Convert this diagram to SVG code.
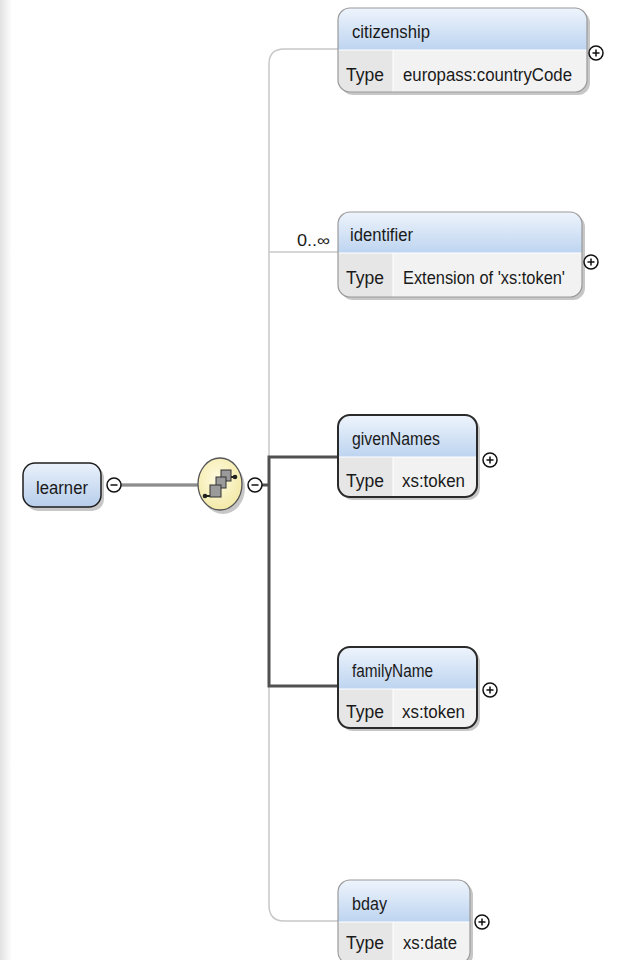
<svg xmlns="http://www.w3.org/2000/svg" width="617" height="960" viewBox="0 0 617 960">
<style>
text{font-family:"Liberation Sans",Arial,sans-serif;font-size:17.5px;fill:#1a1a1a}
.hd{fill:url(#hg)}
.opt{stroke:#9a9a9a;stroke-width:1.2}
.req{stroke:#2a2a2a;stroke-width:2}
.tc{fill:#e6e6e6}
.vc{fill:#f2f2f2}
.sh{fill:#000;opacity:.22}
.thin{fill:none;stroke:#c8c8c8;stroke-width:1.5}
.thick{fill:none;stroke:#505050;stroke-width:3}
.pm{fill:#fff;stroke:#111;stroke-width:1.5}
.pl{stroke:#111;stroke-width:1.5}
</style>
<defs>
<linearGradient id="hg" x1="0" y1="0" x2="0" y2="1"><stop offset="0" stop-color="#eef4fc"/><stop offset="1" stop-color="#bdd4f0"/></linearGradient>
<linearGradient id="lg" x1="0" y1="0" x2="0" y2="1"><stop offset="0" stop-color="#eaf1fb"/><stop offset="1" stop-color="#b6cdeb"/></linearGradient>
<linearGradient id="edge" x1="0" y1="0" x2="1" y2="0"><stop offset="0" stop-color="#e2e2e2"/><stop offset="1" stop-color="#ffffff"/></linearGradient>
<radialGradient id="yg" cx="0.45" cy="0.4" r="0.6"><stop offset="0" stop-color="#fffbe0"/><stop offset="1" stop-color="#f3e9a8"/></radialGradient>
<clipPath id="c1"><rect x="338" y="8" width="249" height="84" rx="12"/></clipPath>
<clipPath id="c2"><rect x="338" y="212" width="244" height="85" rx="12"/></clipPath>
<clipPath id="c3"><rect x="338" y="415" width="139" height="82" rx="12"/></clipPath>
<clipPath id="c4"><rect x="338" y="647" width="139" height="81" rx="12"/></clipPath>
<clipPath id="c5"><rect x="338" y="880" width="132" height="84" rx="12"/></clipPath>
</defs>
<rect width="617" height="960" fill="#fff"/>
<rect width="12" height="960" fill="url(#edge)"/>

<g id="connectors">
<path class="thin" d="M338 49 H284 Q269 49 269 64 V905 Q269 921 284 921 H338"/>
<path class="thin" d="M269 252 H338"/>
<path class="thick" d="M338 457 H269 V686 H338"/>
<path class="thick" d="M262 485 H269"/>
<path d="M121 485 H198" fill="none" stroke="#6a6a6a" stroke-width="3"/>
<path d="M121 485 H198" fill="none" stroke="#b0b0b0" stroke-width="1"/>
</g>

<g id="learner">
<rect x="26" y="466" width="78" height="45" rx="12" class="sh"/>
<rect x="23" y="463" width="78" height="44" rx="12" fill="url(#lg)" stroke="#1e1e1e" stroke-width="1.5"/>
<text x="36" y="494" textLength="52" lengthAdjust="spacingAndGlyphs">learner</text>
<circle cx="114" cy="485" r="7" class="pm"/>
<path d="M110.5 485 H117.5" class="pl"/>
</g>

<g id="sequence">
<ellipse cx="223" cy="488" rx="22" ry="26" class="sh"/>
<ellipse cx="220" cy="484" rx="22" ry="26" fill="url(#yg)" stroke="#555" stroke-width="1.3"/>
<path d="M205 496 H211 M229 477 H235" stroke="#222" stroke-width="2"/>
<circle cx="205" cy="496" r="2.3" fill="#222"/>
<circle cx="235" cy="477" r="2.3" fill="#222"/>
<rect x="221" y="470" width="10" height="11" fill="#9a9a9a" stroke="#333"/>
<rect x="216" y="477" width="10" height="11" fill="#9a9a9a" stroke="#333"/>
<rect x="210" y="485" width="11" height="12" fill="#9a9a9a" stroke="#333"/>
<circle cx="255" cy="485" r="7" class="pm"/>
<path d="M251.5 485 H258.5" class="pl"/>
</g>

<g id="citizenship">
<rect x="341" y="11" width="249" height="84" rx="12" class="sh"/>
<g clip-path="url(#c1)">
<rect x="338" y="8" width="249" height="42" class="hd"/>
<rect x="338" y="50" width="55" height="42" class="tc"/>
<rect x="393" y="50" width="194" height="42" class="vc"/>
<path d="M338 50 H587 M393 50 V92" stroke="#fff" stroke-width="1"/>
</g>
<rect x="338" y="8" width="249" height="84" rx="12" fill="none" class="opt"/>
<text x="352" y="38" textLength="78" lengthAdjust="spacingAndGlyphs">citizenship</text>
<text x="346" y="81" textLength="38" lengthAdjust="spacingAndGlyphs">Type</text>
<text x="403" y="81" textLength="169" lengthAdjust="spacingAndGlyphs">europass:countryCode</text>
<circle cx="596" cy="53" r="7" class="pm"/>
<path d="M592.5 53 H599.5 M596 49.5 V56.5" class="pl"/>
</g>

<g id="identifier">
<text x="297" y="246" textLength="33" lengthAdjust="spacingAndGlyphs" style="font-size:16px">0..∞</text>
<rect x="341" y="215" width="244" height="85" rx="12" class="sh"/>
<g clip-path="url(#c2)">
<rect x="338" y="212" width="244" height="41" class="hd"/>
<rect x="338" y="253" width="55" height="44" class="tc"/>
<rect x="393" y="253" width="189" height="44" class="vc"/>
<path d="M338 253 H582 M393 253 V297" stroke="#fff" stroke-width="1"/>
</g>
<rect x="338" y="212" width="244" height="85" rx="12" fill="none" class="opt"/>
<text x="350" y="241" textLength="63" lengthAdjust="spacingAndGlyphs">identifier</text>
<text x="346" y="284" textLength="38" lengthAdjust="spacingAndGlyphs">Type</text>
<text x="403" y="284" textLength="162" lengthAdjust="spacingAndGlyphs">Extension of 'xs:token'</text>
<circle cx="591" cy="262" r="7" class="pm"/>
<path d="M587.5 262 H594.5 M591 258.5 V265.5" class="pl"/>
</g>

<g id="givenNames">
<rect x="341" y="418" width="139" height="82" rx="12" class="sh"/>
<g clip-path="url(#c3)">
<rect x="338" y="415" width="139" height="42" class="hd"/>
<rect x="338" y="457" width="55" height="40" class="tc"/>
<rect x="393" y="457" width="84" height="40" class="vc"/>
<path d="M338 457 H477 M393 457 V497" stroke="#fff" stroke-width="1"/>
</g>
<rect x="338" y="415" width="139" height="82" rx="12" fill="none" class="req"/>
<text x="352" y="445" textLength="88" lengthAdjust="spacingAndGlyphs">givenNames</text>
<text x="346" y="487" textLength="38" lengthAdjust="spacingAndGlyphs">Type</text>
<text x="402" y="487" textLength="63" lengthAdjust="spacingAndGlyphs">xs:token</text>
<circle cx="490" cy="460" r="7" class="pm"/>
<path d="M486.5 460 H493.5 M490 456.5 V463.5" class="pl"/>
</g>

<g id="familyName">
<rect x="341" y="650" width="139" height="81" rx="12" class="sh"/>
<g clip-path="url(#c4)">
<rect x="338" y="647" width="139" height="42" class="hd"/>
<rect x="338" y="689" width="55" height="39" class="tc"/>
<rect x="393" y="689" width="84" height="39" class="vc"/>
<path d="M338 689 H477 M393 689 V728" stroke="#fff" stroke-width="1"/>
</g>
<rect x="338" y="647" width="139" height="81" rx="12" fill="none" class="req"/>
<text x="352" y="677" textLength="81" lengthAdjust="spacingAndGlyphs">familyName</text>
<text x="346" y="718" textLength="38" lengthAdjust="spacingAndGlyphs">Type</text>
<text x="402" y="718" textLength="63" lengthAdjust="spacingAndGlyphs">xs:token</text>
<circle cx="490" cy="690" r="7" class="pm"/>
<path d="M486.5 690 H493.5 M490 686.5 V693.5" class="pl"/>
</g>

<g id="bday">
<rect x="341" y="883" width="132" height="84" rx="12" class="sh"/>
<g clip-path="url(#c5)">
<rect x="338" y="880" width="132" height="42" class="hd"/>
<rect x="338" y="922" width="55" height="42" class="tc"/>
<rect x="393" y="922" width="77" height="42" class="vc"/>
<path d="M338 922 H470 M393 922 V964" stroke="#fff" stroke-width="1"/>
</g>
<rect x="338" y="880" width="132" height="84" rx="12" fill="none" class="opt"/>
<text x="352" y="910" textLength="35" lengthAdjust="spacingAndGlyphs">bday</text>
<text x="346" y="949" textLength="38" lengthAdjust="spacingAndGlyphs">Type</text>
<text x="403" y="949" textLength="54" lengthAdjust="spacingAndGlyphs">xs:date</text>
<circle cx="482" cy="922" r="7" class="pm"/>
<path d="M478.5 922 H485.5 M482 918.5 V925.5" class="pl"/>
</g>
</svg>
